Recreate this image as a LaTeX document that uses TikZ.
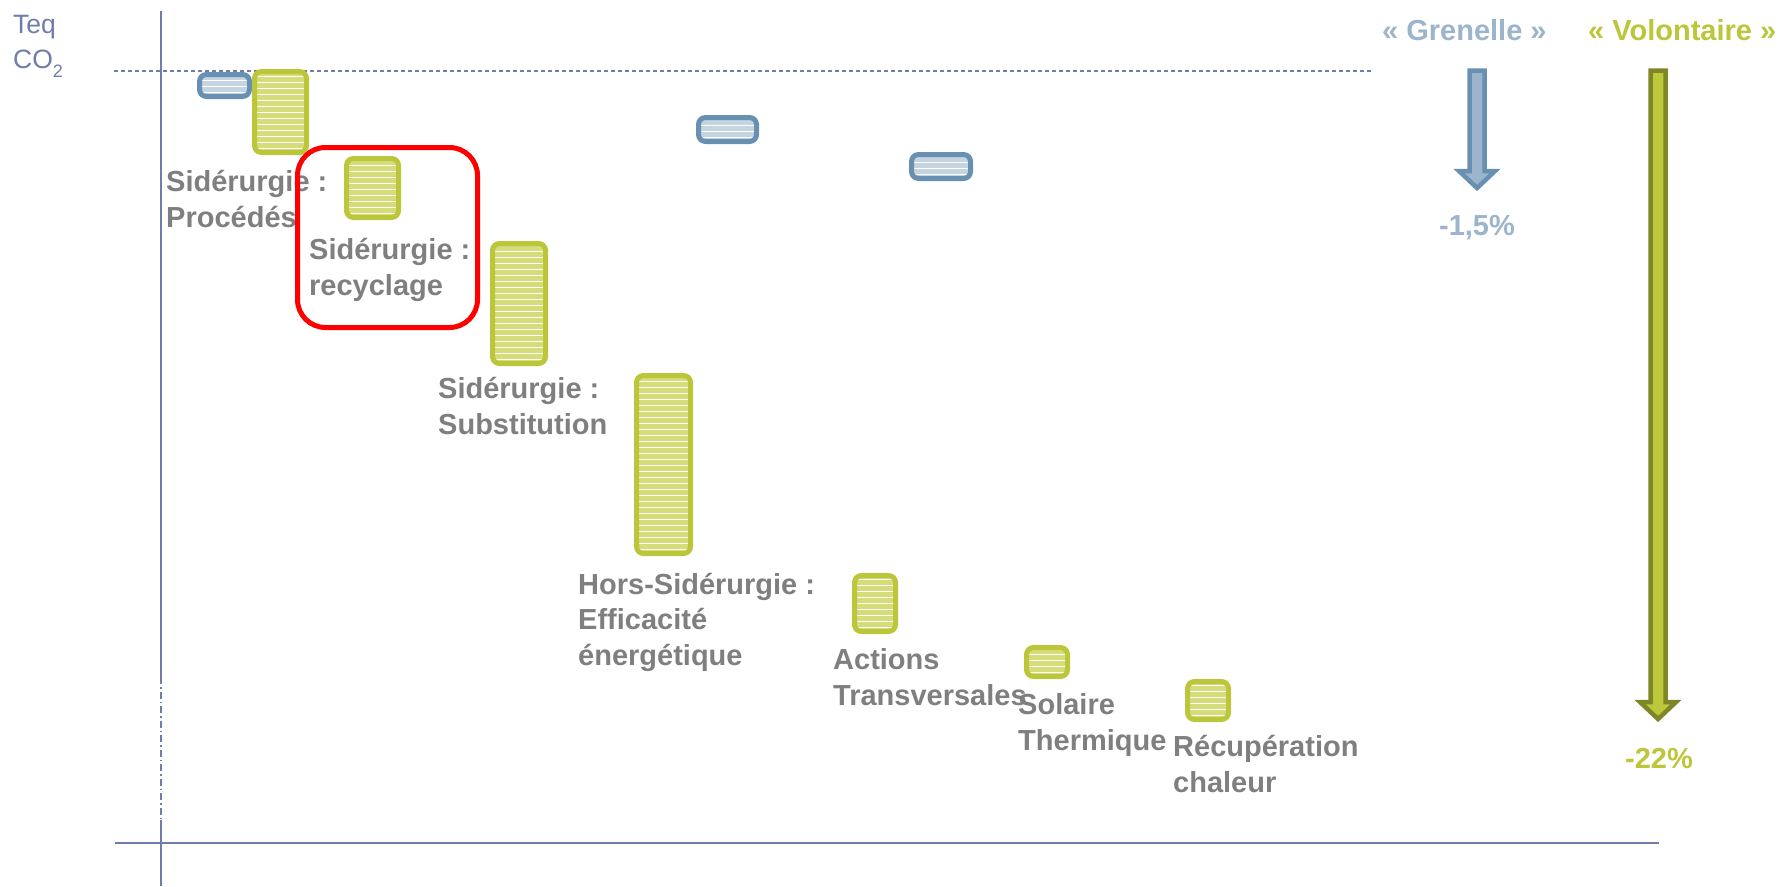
\documentclass[tikz,border=0pt]{standalone}
\usepackage{fontspec}
\setmainfont{Liberation Sans}
\definecolor{axiscol}{RGB}{112,124,170}
\definecolor{labgray}{RGB}{127,127,127}
\definecolor{bstroke}{RGB}{103,144,179}
\definecolor{bfill}{RGB}{196,212,225}
\definecolor{gstroke}{RGB}{188,198,58}
\definecolor{gfill}{RGB}{213,220,122}
\definecolor{grentxt}{RGB}{156,181,205}
\definecolor{volarrow}{RGB}{126,134,40}
\definecolor{volfill}{RGB}{189,200,58}
\begin{document}
\begin{tikzpicture}[x=1pt,y=-1pt,
  hatch/.style={path picture={\foreach \k in {1,...,40}{\draw[white,line width=1pt] ([yshift=\k*6pt-2pt]path picture bounding box.south west) -- ([yshift=\k*6pt-2pt]path picture bounding box.south east);}}},
  gbox/.style={draw=gstroke,fill=gfill,line width=5pt,rounded corners=7pt,inner sep=0pt,hatch},
  bbox/.style={draw=bstroke,fill=bfill,line width=5pt,rounded corners=7pt,inner sep=0pt,hatch},
  lab/.style={anchor=base west,align=left,inner sep=0pt,text=labgray,font=\fontsize{29}{35.5}\selectfont\bfseries},
  ttl/.style={anchor=base west,inner sep=0pt,font=\fontsize{29}{35}\selectfont\bfseries},
  pct/.style={anchor=base,inner sep=0pt,font=\fontsize{29}{35}\selectfont\bfseries},
  axisline/.style={draw=axiscol,line width=2pt}]
\useasboundingbox (0,0) rectangle (1782,886);

% reference dashed line
\coordinate (d1) at (114,71);
\coordinate (d2) at (1372,71);
\draw[axiscol,line width=1.3pt,dash pattern=on 4pt off 3pt] (d1) -- (d2);

% axes
\coordinate (v0) at (161,11);
\coordinate (v1) at (161,677);
\coordinate (v2) at (161,820);
\coordinate (v3) at (161,886);
\draw[axisline] (v0) -- (v1);
\draw[axisline,dash pattern=on 7pt off 3pt on 1.5pt off 3pt] (v1) -- (v2);
\draw[axisline] (v2) -- (v3);
\coordinate (h0) at (115,843);
\coordinate (h1) at (1659,843);
\draw[axisline] (h0) -- (h1);

% y label
\node[anchor=base west,align=left,inner sep=0pt,text=axiscol,font=\fontsize{26.5}{35}\selectfont] (teq) at (13,68)
  {Teq\\CO\raisebox{-9pt}{\fontsize{18}{18}\selectfont 2}};

% boxes
\node[bbox,minimum width=50pt,minimum height=22pt] (b1) at (224.5,85.5) {};
\node[gbox,minimum width=52pt,minimum height=81pt] (g1) at (280.5,112) {};
\node[gbox,minimum width=52pt,minimum height=59pt] (g2) at (372.5,188) {};
\node[gbox,minimum width=53pt,minimum height=120pt] (g3) at (519,303.5) {};
\node[gbox,minimum width=54pt,minimum height=178pt] (g4) at (663.5,464.5) {};
\node[bbox,minimum width=58pt,minimum height=24pt] (b2) at (727.5,129.5) {};
\node[bbox,minimum width=59pt,minimum height=24pt] (b3) at (941,166.5) {};
\node[gbox,minimum width=41pt,minimum height=56pt] (g5) at (875,603.5) {};
\node[gbox,minimum width=41pt,minimum height=29pt] (g6) at (1047,662) {};
\node[gbox,minimum width=41pt,minimum height=38pt] (g7) at (1208,700.5) {};

% labels (anchored at the baseline of their last line)
\node[lab] (l1) at (166,227) {Sidérurgie :\\Procédés};
\node[lab] (l2) at (309,295) {Sidérurgie :\\recyclage};
\node[lab] (l3) at (438,434) {Sidérurgie :\\Substitution};
\node[lab] (l4) at (578,665) {Hors-Sidérurgie :\\Efficacité\\énergétique};
\node[lab] (l5) at (833,705) {Actions\\Transversales};
\node[lab] (l6) at (1018,750) {Solaire\\Thermique};
\node[lab] (l7) at (1173,792) {Récupération\\chaleur};

% highlight
\node[draw=red,line width=5pt,rounded corners=28pt,minimum width=180pt,minimum height=180pt,inner sep=0pt] (hl) at (387.5,237.5) {};

% titles
\node[ttl,text=grentxt] (gren) at (1382,40) {« Grenelle »};
\node[ttl,text=gstroke] (vol) at (1588,40) {« Volontaire »};

% arrows
\draw[draw=bstroke,fill=grentxt,line width=4.5pt,line join=miter]
  (1469.5,70.5) -- (1484.5,70.5) -- (1484.5,171) -- (1495,171) -- (1477,188) -- (1459,171) -- (1469.5,171) -- cycle;
\draw[draw=volarrow,fill=volfill,line width=4.5pt,line join=miter]
  (1650.5,70.5) -- (1665.5,70.5) -- (1665.5,702) -- (1676,702) -- (1658,719) -- (1640,702) -- (1650.5,702) -- cycle;

\node[pct,text=grentxt] (p1) at (1477,235) {-1,5\%};
\node[pct,text=gstroke] (p2) at (1659,768) {-22\%};
\end{tikzpicture}
\end{document}
